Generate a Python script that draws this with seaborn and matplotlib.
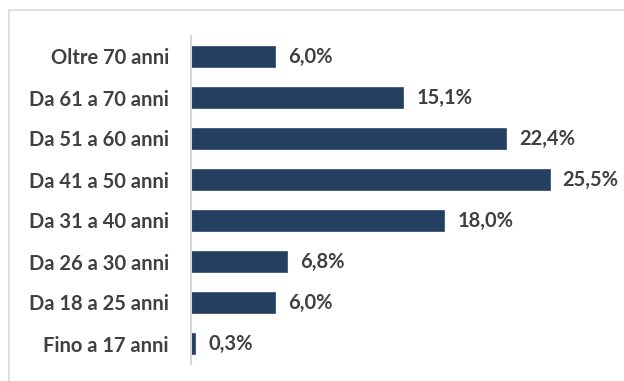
import matplotlib
matplotlib.use("Agg")
import matplotlib.pyplot as plt
import seaborn as sns
import pandas as pd
from matplotlib.patches import Rectangle

categories = ["Oltre 70 anni", "Da 61 a 70 anni", "Da 51 a 60 anni", "Da 41 a 50 anni",
              "Da 31 a 40 anni", "Da 26 a 30 anni", "Da 18 a 25 anni", "Fino a 17 anni"]
values = [6.0, 15.1, 22.4, 25.5, 18.0, 6.8, 6.0, 0.3]
labels = ["6,0%", "15,1%", "22,4%", "25,5%", "18,0%", "6,8%", "6,0%", "0,3%"]

sns.set_theme(style="white")
plt.rcParams['font.family'] = ['Lato', 'DejaVu Sans']

df = pd.DataFrame({"cat": categories, "val": values})

W, H = 624, 381
fig = plt.figure(figsize=(W / 100, H / 100), dpi=100)
ax = fig.add_axes([191 / W, 1 - 364 / H, (613 - 191) / W, (364 - 36) / H])

sns.barplot(data=df, x="val", y="cat", orient="h", color="#243f60", width=0.5,
            edgecolor="#3a5678", linewidth=0.6, saturation=1, ax=ax)

ax.set_xlim(0, 30)
ax.set_ylim(len(categories) - 0.5, -0.5)
ax.set_xlabel("")
ax.set_ylabel("")
ax.set_xticks([])
for s in ["top", "right", "bottom"]:
    ax.spines[s].set_visible(False)
ax.spines["left"].set_color("#d9d9d9")
ax.spines["left"].set_linewidth(1.5)
ax.tick_params(axis="y", length=0, pad=16)
for t in ax.get_yticklabels():
    t.set_fontweight("bold")
    t.set_fontsize(14.5)
    t.set_color("#404040")

for i, (v, lab) in enumerate(zip(values, labels)):
    ax.annotate(lab, (v, i), xytext=(13, 0), textcoords="offset pixels",
                va="center", ha="left", fontsize=14.5, fontweight="bold", color="#404040")

fig.patches.append(Rectangle((9 / W, -0.1), 1.2, 1 - 10 / H + 0.1, transform=fig.transFigure,
                             fill=False, edgecolor="#d9d9d9", linewidth=1.2))

fig.savefig("out.png", dpi=100)
